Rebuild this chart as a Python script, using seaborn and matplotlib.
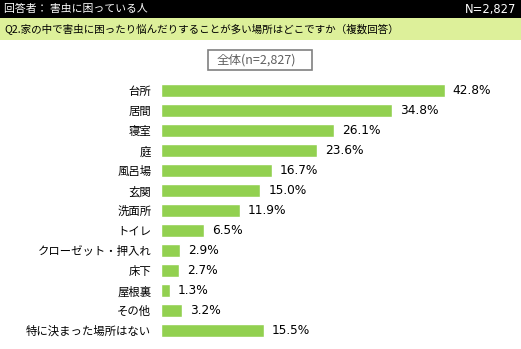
import matplotlib
matplotlib.use("Agg")
import matplotlib.pyplot as plt
import seaborn as sns
import pandas as pd
from matplotlib.patches import Rectangle

categories = ["台所", "居間", "寝室", "庭", "風呂場", "玄関", "洗面所", "トイレ",
              "クローゼット・押入れ", "床下", "屋根裏", "その他", "特に決まった場所はない"]
values = [42.8, 34.8, 26.1, 23.6, 16.7, 15.0, 11.9, 6.5, 2.9, 2.7, 1.3, 3.2, 15.5]
header_left = "回答者： 害虫に困っている人"
header_right = "N=2,827"
question = "Q2.家の中で害虫に困ったり悩んだりすることが多い場所はどこですか（複数回答）"
legend_label = "全体(n=2,827)"

df = pd.DataFrame({"cat": categories, "val": values})

sns.set_theme(style="white")
plt.rcParams['font.family'] = ['Noto Sans CJK JP', 'DejaVu Sans']

W, H = 521, 349
fig = plt.figure(figsize=(W / 100, H / 100), dpi=100)
fig.patch.set_facecolor("white")

# header bands
fig.patches.append(Rectangle((0, 1 - 18 / H), 1, 18 / H, transform=fig.transFigure,
                             facecolor="black", edgecolor="none", zorder=0))
fig.patches.append(Rectangle((0, 1 - 40 / H), 1, 22 / H, transform=fig.transFigure,
                             facecolor="#DDF09A", edgecolor="none", zorder=0))
fig.text(4 / W, 1 - 9 / H, header_left, color="white", fontsize=7.8, va="center", ha="left")
fig.text(516 / W, 1 - 9 / H, header_right, color="white", fontsize=8.3, va="center", ha="right",
         family=['DejaVu Sans'])
fig.text(4 / W, 1 - 29 / H, question, color="black", fontsize=7.6, va="center", ha="left")

# legend box
fig.patches.append(Rectangle((208 / W, 1 - 70 / H), 104 / W, 20 / H, transform=fig.transFigure,
                             facecolor="white", edgecolor="#808080", linewidth=1.2, zorder=1))
fig.text(256 / W, 1 - 60 / H, legend_label, color="#606060", fontsize=9, va="center", ha="center",
         zorder=2)

px_per = 6.63
xmax = 50
left_px = 161
top_px = 81
bottom_px = 340.5
ax = fig.add_axes([left_px / W, 1 - bottom_px / H, xmax * px_per / W, (bottom_px - top_px) / H])
sns.barplot(data=df, x="val", y="cat", ax=ax, color="#92D050", width=0.65, saturation=1, orient="h")
ax.set_xlim(0, xmax)
ax.set_xlabel("")
ax.set_ylabel("")
ax.set_xticks([])
for s in ax.spines.values():
    s.set_visible(False)
ax.tick_params(axis="y", length=0, pad=7, labelsize=8.2, labelcolor="black")
for i, v in enumerate(values):
    ax.text(v + 1.2, i, f"{v:.1f}%", va="center", ha="left", fontsize=8.7, color="black",
            family=['DejaVu Sans'])

fig.savefig("out.png", dpi=100)
